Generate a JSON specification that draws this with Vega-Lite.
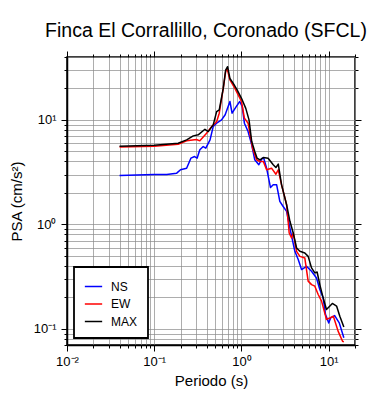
{
  "$schema": "https://vega.github.io/schema/vega-lite/v6.json",
  "width": 288,
  "height": 288,
  "autosize": {"type": "none"},
  "padding": {"left": 67, "top": 57, "right": 35, "bottom": 55},
  "background": "white",
  "title": {"text": "Finca El Corrallillo, Coronado (SFCL)", "fontSize": 19.5, "font": "Liberation Sans", "fontWeight": "normal", "offset": 9, "anchor": "middle", "dx": -5, "color": "black"},
  "config": {
    "view": {"stroke": "black", "strokeWidth": 1.5},
    "font": "Liberation Sans",
    "axis": {
      "gridColor": "#8a8a8a", "gridWidth": 0.7, "gridOpacity": 1,
      "domainColor": "black", "domainWidth": 1.5,
      "tickColor": "black", "tickWidth": 1,
      "labelFont": "Liberation Sans", "labelFontSize": 13, "labelColor": "black",
      "titleFont": "Liberation Sans", "titleFontSize": 15, "titleFontWeight": "normal", "titleColor": "black"
    },
    "legend": {
      "orient": "bottom-left", "offset": 7, "fillColor": "white", "strokeColor": "black", "strokeWidth": 1.8,
      "padding": 10, "symbolType": "stroke", "symbolSize": 300, "labelFontSize": 12, "labelFont": "Liberation Sans",
      "labelOffset": 8, "rowPadding": 1.5, "labelColor": "black"
    }
  },
  "data": {"values": [
    {"comp": "NS", "T": 0.04, "psa": 2.94},
    {"comp": "NS", "T": 0.1, "psa": 3.0},
    {"comp": "NS", "T": 0.139, "psa": 3.0},
    {"comp": "NS", "T": 0.181, "psa": 3.09},
    {"comp": "NS", "T": 0.2, "psa": 3.33},
    {"comp": "NS", "T": 0.235, "psa": 3.45},
    {"comp": "NS", "T": 0.263, "psa": 4.3},
    {"comp": "NS", "T": 0.29, "psa": 4.46},
    {"comp": "NS", "T": 0.31, "psa": 4.3},
    {"comp": "NS", "T": 0.333, "psa": 5.17},
    {"comp": "NS", "T": 0.364, "psa": 5.56},
    {"comp": "NS", "T": 0.39, "psa": 5.36},
    {"comp": "NS", "T": 0.436, "psa": 6.44},
    {"comp": "NS", "T": 0.474, "psa": 8.63},
    {"comp": "NS", "T": 0.519, "psa": 9.3},
    {"comp": "NS", "T": 0.591, "psa": 10.0},
    {"comp": "NS", "T": 0.65, "psa": 11.2},
    {"comp": "NS", "T": 0.737, "psa": 15.0},
    {"comp": "NS", "T": 0.78, "psa": 11.6},
    {"comp": "NS", "T": 0.87, "psa": 13.4},
    {"comp": "NS", "T": 0.955, "psa": 15.0},
    {"comp": "NS", "T": 1.02, "psa": 13.4},
    {"comp": "NS", "T": 1.08, "psa": 9.3},
    {"comp": "NS", "T": 1.19, "psa": 7.73},
    {"comp": "NS", "T": 1.31, "psa": 5.77},
    {"comp": "NS", "T": 1.42, "psa": 4.15},
    {"comp": "NS", "T": 1.58, "psa": 3.72},
    {"comp": "NS", "T": 1.73, "psa": 4.3},
    {"comp": "NS", "T": 1.8, "psa": 4.3},
    {"comp": "NS", "T": 1.94, "psa": 3.45},
    {"comp": "NS", "T": 2.15, "psa": 2.25},
    {"comp": "NS", "T": 2.31, "psa": 2.39},
    {"comp": "NS", "T": 2.53, "psa": 2.39},
    {"comp": "NS", "T": 2.75, "psa": 1.66},
    {"comp": "NS", "T": 2.99, "psa": 1.49},
    {"comp": "NS", "T": 3.29, "psa": 1.33},
    {"comp": "NS", "T": 3.59, "psa": 0.92},
    {"comp": "NS", "T": 4.09, "psa": 0.552},
    {"comp": "NS", "T": 4.47, "psa": 0.46},
    {"comp": "NS", "T": 4.88, "psa": 0.369},
    {"comp": "NS", "T": 5.56, "psa": 0.397},
    {"comp": "NS", "T": 6.35, "psa": 0.356},
    {"comp": "NS", "T": 7.24, "psa": 0.307},
    {"comp": "NS", "T": 7.9, "psa": 0.238},
    {"comp": "NS", "T": 8.63, "psa": 0.198},
    {"comp": "NS", "T": 9.18, "psa": 0.137},
    {"comp": "NS", "T": 10.0, "psa": 0.114},
    {"comp": "NS", "T": 10.5, "psa": 0.127},
    {"comp": "NS", "T": 11.7, "psa": 0.134},
    {"comp": "NS", "T": 13.2, "psa": 0.114},
    {"comp": "NS", "T": 14.9, "psa": 0.082},
    {"comp": "EW", "T": 0.04, "psa": 5.5},
    {"comp": "EW", "T": 0.1, "psa": 5.6},
    {"comp": "EW", "T": 0.188, "psa": 5.85},
    {"comp": "EW", "T": 0.235, "psa": 6.3},
    {"comp": "EW", "T": 0.305, "psa": 6.5},
    {"comp": "EW", "T": 0.333, "psa": 6.3},
    {"comp": "EW", "T": 0.398, "psa": 7.45},
    {"comp": "EW", "T": 0.454, "psa": 8.63},
    {"comp": "EW", "T": 0.519, "psa": 9.6},
    {"comp": "EW", "T": 0.556, "psa": 11.6},
    {"comp": "EW", "T": 0.618, "psa": 20.0},
    {"comp": "EW", "T": 0.658, "psa": 28.9},
    {"comp": "EW", "T": 0.685, "psa": 31.0},
    {"comp": "EW", "T": 0.737, "psa": 24.1},
    {"comp": "EW", "T": 0.84, "psa": 20.0},
    {"comp": "EW", "T": 1.0, "psa": 15.0},
    {"comp": "EW", "T": 1.08, "psa": 10.4},
    {"comp": "EW", "T": 1.19, "psa": 9.3},
    {"comp": "EW", "T": 1.34, "psa": 5.36},
    {"comp": "EW", "T": 1.49, "psa": 4.15},
    {"comp": "EW", "T": 1.63, "psa": 4.0},
    {"comp": "EW", "T": 1.78, "psa": 4.0},
    {"comp": "EW", "T": 1.94, "psa": 3.33},
    {"comp": "EW", "T": 2.21, "psa": 3.45},
    {"comp": "EW", "T": 2.48, "psa": 3.02},
    {"comp": "EW", "T": 2.64, "psa": 3.33},
    {"comp": "EW", "T": 2.88, "psa": 2.39},
    {"comp": "EW", "T": 3.29, "psa": 1.54},
    {"comp": "EW", "T": 3.52, "psa": 0.826},
    {"comp": "EW", "T": 3.75, "psa": 0.74},
    {"comp": "EW", "T": 3.92, "psa": 0.826},
    {"comp": "EW", "T": 4.28, "psa": 0.552},
    {"comp": "EW", "T": 4.67, "psa": 0.494},
    {"comp": "EW", "T": 5.32, "psa": 0.476},
    {"comp": "EW", "T": 5.81, "psa": 0.286},
    {"comp": "EW", "T": 6.35, "psa": 0.265},
    {"comp": "EW", "T": 6.93, "psa": 0.256},
    {"comp": "EW", "T": 7.57, "psa": 0.213},
    {"comp": "EW", "T": 8.27, "psa": 0.184},
    {"comp": "EW", "T": 9.42, "psa": 0.123},
    {"comp": "EW", "T": 10.3, "psa": 0.127},
    {"comp": "EW", "T": 11.3, "psa": 0.132},
    {"comp": "EW", "T": 12.8, "psa": 0.095},
    {"comp": "EW", "T": 14.4, "psa": 0.076},
    {"comp": "EW", "T": 14.9, "psa": 0.075},
    {"comp": "MAX", "T": 0.04, "psa": 5.6},
    {"comp": "MAX", "T": 0.1, "psa": 5.72},
    {"comp": "MAX", "T": 0.188, "psa": 5.98},
    {"comp": "MAX", "T": 0.235, "psa": 6.44},
    {"comp": "MAX", "T": 0.28, "psa": 7.03},
    {"comp": "MAX", "T": 0.319, "psa": 7.2},
    {"comp": "MAX", "T": 0.381, "psa": 8.13},
    {"comp": "MAX", "T": 0.416, "psa": 7.73},
    {"comp": "MAX", "T": 0.474, "psa": 8.96},
    {"comp": "MAX", "T": 0.519, "psa": 12.0},
    {"comp": "MAX", "T": 0.556, "psa": 12.5},
    {"comp": "MAX", "T": 0.618, "psa": 20.0},
    {"comp": "MAX", "T": 0.658, "psa": 30.0},
    {"comp": "MAX", "T": 0.693, "psa": 32.3},
    {"comp": "MAX", "T": 0.737, "psa": 24.9},
    {"comp": "MAX", "T": 0.805, "psa": 22.4},
    {"comp": "MAX", "T": 0.894, "psa": 19.3},
    {"comp": "MAX", "T": 1.0, "psa": 16.1},
    {"comp": "MAX", "T": 1.12, "psa": 12.9},
    {"comp": "MAX", "T": 1.22, "psa": 10.0},
    {"comp": "MAX", "T": 1.31, "psa": 6.2},
    {"comp": "MAX", "T": 1.42, "psa": 4.98},
    {"comp": "MAX", "T": 1.51, "psa": 4.3},
    {"comp": "MAX", "T": 1.63, "psa": 4.14},
    {"comp": "MAX", "T": 1.78, "psa": 4.36},
    {"comp": "MAX", "T": 2.02, "psa": 4.3},
    {"comp": "MAX", "T": 2.31, "psa": 3.72},
    {"comp": "MAX", "T": 2.48, "psa": 3.5},
    {"comp": "MAX", "T": 2.64, "psa": 3.77},
    {"comp": "MAX", "T": 2.88, "psa": 2.39},
    {"comp": "MAX", "T": 3.29, "psa": 1.54},
    {"comp": "MAX", "T": 3.59, "psa": 1.07},
    {"comp": "MAX", "T": 3.92, "psa": 0.826},
    {"comp": "MAX", "T": 4.28, "psa": 0.594},
    {"comp": "MAX", "T": 4.67, "psa": 0.552},
    {"comp": "MAX", "T": 5.32, "psa": 0.532},
    {"comp": "MAX", "T": 5.81, "psa": 0.494},
    {"comp": "MAX", "T": 6.35, "psa": 0.383},
    {"comp": "MAX", "T": 6.93, "psa": 0.343},
    {"comp": "MAX", "T": 7.36, "psa": 0.35},
    {"comp": "MAX", "T": 7.9, "psa": 0.265},
    {"comp": "MAX", "T": 8.63, "psa": 0.198},
    {"comp": "MAX", "T": 9.42, "psa": 0.153},
    {"comp": "MAX", "T": 11.0, "psa": 0.175},
    {"comp": "MAX", "T": 12.3, "psa": 0.165},
    {"comp": "MAX", "T": 13.4, "psa": 0.132},
    {"comp": "MAX", "T": 14.9, "psa": 0.104}
  ]},
  "layer": [
    {
      "mark": {"type": "line", "strokeJoin": "round", "clip": true},
      "encoding": {
        "x": {"field": "T", "type": "quantitative",
          "scale": {"type": "log", "domain": [0.01, 20], "nice": false},
          "axis": {"orient": "bottom", "title": "Periodo (s)", "titlePadding": 5,
            "values": [0.01,0.02,0.03,0.04,0.05,0.06,0.07,0.08,0.09,0.1,0.2,0.3,0.4,0.5,0.6,0.7,0.8,0.9,1,2,3,4,5,6,7,8,9,10,20],
            "labelExpr": "datum.value == 0.01 ? '10⁻²' : datum.value == 0.1 ? '10⁻¹' : datum.value == 1 ? '10⁰' : datum.value == 10 ? '10¹' : ''",
            "tickSize": {"condition": {"test": "datum.value == 0.01 || datum.value == 0.1 || datum.value == 1 || datum.value == 10", "value": 6}, "value": 3},
            "labelPadding": 4, "labelFlush": false, "labelOverlap": false}},
        "y": {"field": "psa", "type": "quantitative",
          "scale": {"type": "log", "domain": [0.07, 40], "nice": false},
          "axis": {"orient": "left", "title": "PSA (cm/s²)", "titlePadding": 9,
            "values": [0.07,0.08,0.09,0.1,0.2,0.3,0.4,0.5,0.6,0.7,0.8,0.9,1,2,3,4,5,6,7,8,9,10,20,30,40],
            "labelExpr": "datum.value == 0.1 ? '10⁻¹' : datum.value == 1 ? '10⁰' : datum.value == 10 ? '10¹' : ''",
            "tickSize": {"condition": {"test": "datum.value == 0.1 || datum.value == 1 || datum.value == 10", "value": 6}, "value": 3},
            "labelPadding": 5, "labelOverlap": false}},
        "color": {"field": "comp", "type": "nominal",
          "scale": {"domain": ["NS", "EW", "MAX"], "range": ["#0000ff", "#ff0000", "#000000"]},
          "legend": {"title": null, "labelExpr": "datum.label + '\u00a0\u00a0'"}},
        "strokeWidth": {"field": "comp", "type": "nominal",
          "scale": {"domain": ["NS", "EW", "MAX"], "range": [1.5, 1.5, 2.7]},
          "legend": {"title": null, "labelExpr": "datum.label + '\u00a0\u00a0'"}}
      }
    },
    {
      "mark": {"type": "line", "opacity": 0},
      "encoding": {
        "x": {"field": "T", "type": "quantitative",
          "axis": {"orient": "top", "title": null, "grid": false, "labels": false, "domain": false,
            "values": [0.01,0.02,0.03,0.04,0.05,0.06,0.07,0.08,0.09,0.1,0.2,0.3,0.4,0.5,0.6,0.7,0.8,0.9,1,2,3,4,5,6,7,8,9,10,20],
            "tickSize": {"condition": {"test": "datum.value == 0.01 || datum.value == 0.1 || datum.value == 1 || datum.value == 10", "value": 6}, "value": 3}}},
        "y": {"field": "psa", "type": "quantitative",
          "axis": {"orient": "right", "title": null, "grid": false, "labels": false, "domain": false,
            "values": [0.07,0.08,0.09,0.1,0.2,0.3,0.4,0.5,0.6,0.7,0.8,0.9,1,2,3,4,5,6,7,8,9,10,20,30,40],
            "tickSize": {"condition": {"test": "datum.value == 0.1 || datum.value == 1 || datum.value == 10", "value": 6}, "value": 3}}},
        "detail": {"field": "comp", "type": "nominal"}
      }
    }
  ],
  "resolve": {"axis": {"x": "independent", "y": "independent"}}
}
